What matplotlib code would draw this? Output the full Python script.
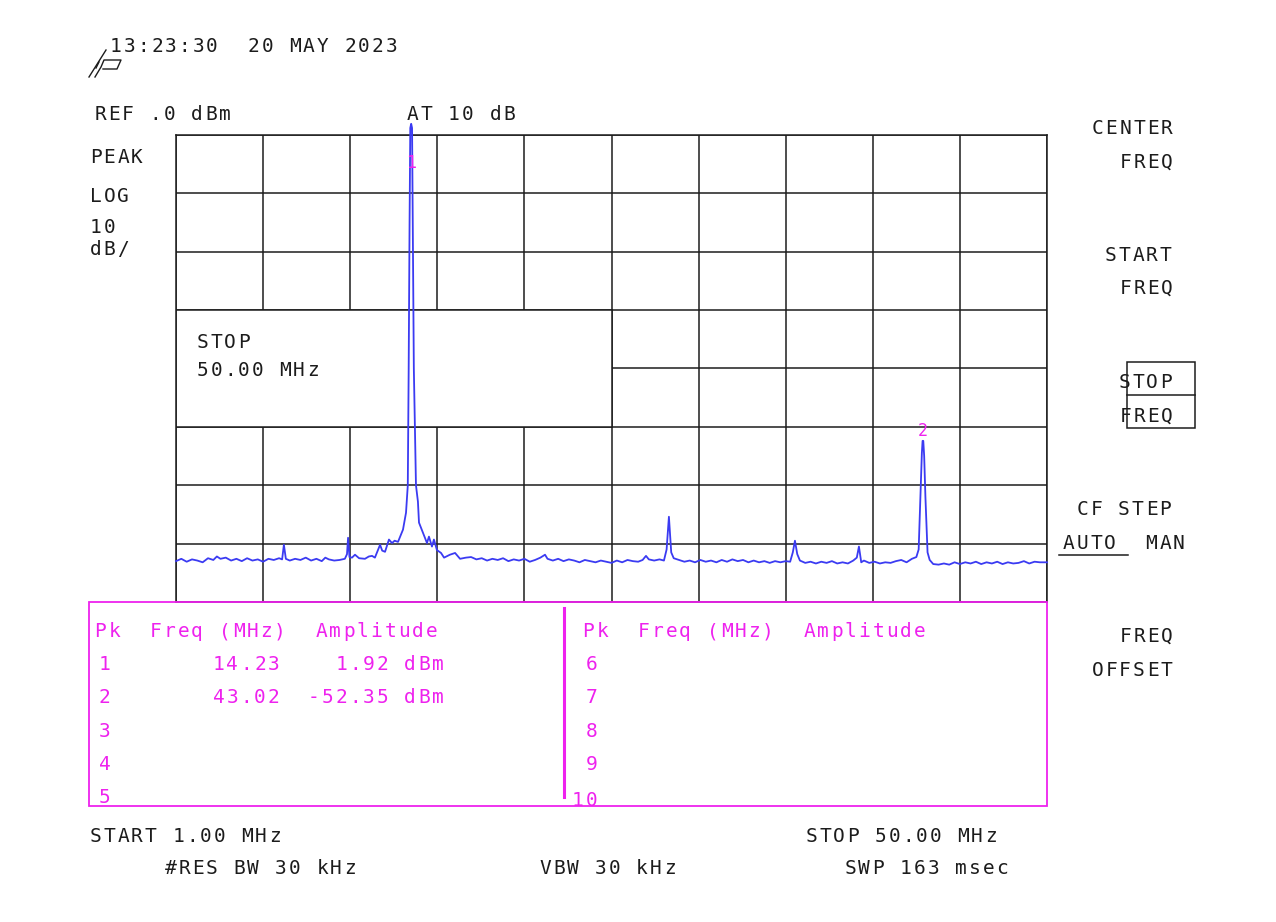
import matplotlib
matplotlib.use('Agg')
import matplotlib.pyplot as plt
from matplotlib.patches import Rectangle
import numpy as np

plt.rcParams['font.family'] = ['DejaVu Sans Mono']

# sweep settings
start_mhz = 1.0
stop_mhz = 50.0
ref_dbm = 0.0
db_per_div = 10
n_div_shown = 8

# marker table values
marker_mhz = [14.23, 43.02]
marker_dbm = [1.92, -52.35]

# trace (MHz, dBm)
trace = [
    (1.0, -73.0), (1.3, -72.6), (1.6, -73.1), (1.9, -72.7), (2.2, -72.9), (2.5, -73.2),
    (2.8, -72.5), (3.1, -72.8), (3.3, -72.2), (3.5, -72.6), (3.8, -72.4), (4.1, -72.9),
    (4.4, -72.6), (4.7, -73.0), (5.0, -72.5), (5.3, -72.9), (5.6, -72.7), (5.9, -73.1),
    (6.2, -72.6), (6.5, -72.8), (6.8, -72.5), (6.97, -72.7), (7.07, -70.2), (7.18, -72.6),
    (7.4, -72.9), (7.7, -72.6), (8.0, -72.8), (8.3, -72.4), (8.6, -72.9), (8.9, -72.6),
    (9.2, -73.0), (9.4, -72.4), (9.6, -72.7), (9.9, -72.9), (10.2, -72.8), (10.5, -72.6),
    (10.62, -71.8), (10.68, -69.0), (10.76, -72.3), (10.9, -72.4), (11.07, -71.9),
    (11.3, -72.5), (11.63, -72.6), (11.85, -72.2), (12.03, -72.1), (12.19, -72.4),
    (12.48, -70.2), (12.6, -71.2), (12.76, -71.4), (12.98, -69.3), (13.15, -69.9),
    (13.3, -69.5), (13.49, -69.7), (13.77, -67.6), (13.94, -64.7), (14.04, -60.0),
    (14.09, -40.0), (14.14, -15.0), (14.18, 1.2), (14.23, 1.92), (14.28, 1.2), (14.32, -15.0),
    (14.38, -40.0), (14.5, -60.0), (14.61, -62.8), (14.67, -66.4), (14.9, -68.2), (15.12, -69.9),
    (15.23, -68.8), (15.4, -70.5), (15.51, -69.3), (15.68, -71.1), (15.91, -71.6),
    (16.08, -72.4), (16.41, -71.9), (16.7, -71.6), (16.98, -72.6), (17.31, -72.4),
    (17.6, -72.3), (17.9, -72.7), (18.2, -72.5), (18.5, -72.9), (18.8, -72.6), (19.1, -72.8),
    (19.4, -72.5), (19.7, -73.0), (20.0, -72.7), (20.3, -72.9), (20.6, -72.6), (20.9, -73.1),
    (21.2, -72.8), (21.5, -72.4), (21.76, -71.9), (21.9, -72.6), (22.2, -72.9), (22.5, -72.6),
    (22.8, -73.0), (23.1, -72.7), (23.4, -72.9), (23.7, -73.2), (24.0, -72.8), (24.3, -73.0),
    (24.6, -73.2), (24.9, -72.9), (25.2, -73.1), (25.5, -73.3), (25.8, -72.9), (26.1, -73.2),
    (26.4, -72.8), (26.7, -73.0), (27.0, -73.1), (27.25, -72.8), (27.44, -72.1), (27.6, -72.7),
    (27.9, -72.9), (28.2, -72.7), (28.45, -72.9), (28.6, -71.0), (28.73, -65.4), (28.86, -71.5),
    (29.0, -72.5), (29.3, -72.8), (29.6, -73.1), (29.9, -72.9), (30.2, -73.2), (30.5, -72.8),
    (30.8, -73.1), (31.1, -72.9), (31.4, -73.2), (31.7, -72.8), (32.0, -73.1), (32.3, -72.7),
    (32.6, -73.0), (32.9, -72.8), (33.2, -73.2), (33.5, -72.9), (33.8, -73.2), (34.1, -73.0),
    (34.4, -73.3), (34.7, -73.0), (35.0, -73.2), (35.3, -73.0), (35.55, -73.1), (35.7, -71.5),
    (35.82, -69.5), (35.95, -71.8), (36.1, -72.9), (36.4, -73.3), (36.7, -73.1), (37.0, -73.4),
    (37.3, -73.1), (37.6, -73.3), (37.9, -73.0), (38.2, -73.4), (38.5, -73.2), (38.8, -73.4),
    (39.1, -72.9), (39.3, -72.4), (39.42, -70.5), (39.55, -73.2), (39.7, -72.9), (40.0, -73.3),
    (40.3, -73.1), (40.6, -73.4), (40.9, -73.2), (41.2, -73.3), (41.5, -73.0), (41.8, -72.8),
    (42.1, -73.2), (42.4, -72.6), (42.65, -72.3), (42.78, -71.0), (42.88, -62.0), (42.96, -54.5),
    (43.0, -52.4), (43.04, -52.4), (43.09, -55.0), (43.16, -62.0), (43.28, -71.5), (43.4, -72.8),
    (43.6, -73.5), (43.9, -73.6), (44.2, -73.4), (44.5, -73.6), (44.8, -73.2), (45.1, -73.5),
    (45.4, -73.2), (45.7, -73.4), (46.0, -73.1), (46.3, -73.5), (46.6, -73.2), (46.9, -73.4),
    (47.2, -73.1), (47.5, -73.5), (47.8, -73.2), (48.1, -73.4), (48.4, -73.3), (48.7, -73.0),
    (49.0, -73.4), (49.3, -73.1), (49.6, -73.2), (50.0, -73.2),
]

W, H = 1276, 922
INK = '#1c1c1c'
MAG = '#ee22ee'
BLUE = '#3b3bf2'

fig = plt.figure(figsize=(W / 100, H / 100), dpi=100)

# graticule axes (pixel box of the screen)
gx0, gx1, gy0, gy1 = 176, 1047, 135, 602
ax = fig.add_axes([gx0 / W, 1 - gy1 / H, (gx1 - gx0) / W, (gy1 - gy0) / H])
ax.set_xlim(start_mhz, stop_mhz)
ax.set_ylim(ref_dbm - n_div_shown * db_per_div, ref_dbm)
ax.set_xticks(np.linspace(start_mhz, stop_mhz, 11))
ax.set_yticks(np.arange(ref_dbm - n_div_shown * db_per_div, ref_dbm + 1, db_per_div))
ax.set_axisbelow(True)
ax.grid(True, color=INK, lw=1.1)
ax.tick_params(length=0, labelbottom=False, labelleft=False)
for sp in ax.spines.values():
    sp.set_color(INK)
    sp.set_linewidth(1.1)

# STOP entry box covers part of the grid
span = stop_mhz - start_mhz
ax.add_patch(Rectangle((start_mhz, -50), span / 2, 20, facecolor='white',
                       edgecolor=INK, lw=1.1, zorder=1))

f, d = np.array(trace).T
ax.plot(f, d, color=BLUE, lw=1.3, zorder=3, clip_on=False)

# marker labels
ax.annotate('1', xy=(marker_mhz[0], ref_dbm), xytext=(0, -33), textcoords='offset pixels',
            ha='center', va='baseline', color=MAG, fontsize=12, zorder=4,
            annotation_clip=False)
ax.annotate('2', xy=(marker_mhz[1], marker_dbm[1]), xytext=(0, 5), textcoords='offset pixels',
            ha='center', va='baseline', color=MAG, fontsize=12, zorder=4)

# overlay in pixel coordinates for the screen annotations
ov = fig.add_axes([0, 0, 1, 1])
ov.set_xlim(0, W)
ov.set_ylim(H, 0)
ov.axis('off')


def hp_text(x0, y, s, color=INK, size=14, pitch=13.8):
    # the analyzer font sits on a fixed character grid
    for i, ch in enumerate(s):
        if ch != ' ':
            ov.text(x0 + i * pitch + 5.5, y, ch, ha='center', va='baseline',
                    color=color, fontsize=size)


hp_text(110, 52, '13:23:30  20 MAY 2023')
# hp logo, drawn with strokes
ov.plot([89, 106], [77, 50], color=INK, lw=1.0)
ov.plot([95, 101, 104, 121, 117, 103], [77, 67, 60, 60, 69, 69], color=INK, lw=1.0)
ov.plot([96, 99], [68, 62], color=INK, lw=1.0)

hp_text(95, 120, 'REF .0 dBm')
hp_text(407, 120, 'AT 10 dB')
hp_text(90, 163, 'PEAK')
hp_text(90, 202, 'LOG')
hp_text(90, 233, '10')
hp_text(90, 255, 'dB/')

hp_text(197, 348, 'STOP')
hp_text(197, 376, f'{stop_mhz:.2f} MHz')

# softkey column
hp_text(1092, 134, 'CENTER')
hp_text(1120, 168, 'FREQ')
hp_text(1105, 261, 'START')
hp_text(1120, 294, 'FREQ')
hp_text(1119, 388, 'STOP')
hp_text(1120, 422, 'FREQ')
ov.add_patch(Rectangle((1127, 362), 68, 66, fill=False, edgecolor=INK, lw=1.1))
ov.plot([1127, 1195], [395, 395], color=INK, lw=1.1)
hp_text(1077, 515, 'CF STEP')
hp_text(1063, 549, 'AUTO  MAN')
ov.plot([1059, 1128], [555, 555], color=INK, lw=1.1)
hp_text(1120, 642, 'FREQ')
hp_text(1092, 676, 'OFFSET')

# marker table
ov.add_patch(Rectangle((89, 602), 958, 204, fill=False, edgecolor=MAG, lw=1.3, zorder=5))
ov.plot([564, 564], [608, 797], color=MAG, lw=2.2)
hp_text(95, 637, 'Pk  Freq (MHz)  Amplitude', color=MAG)
hp_text(583, 637, 'Pk  Freq (MHz)  Amplitude', color=MAG)
row_y = [670, 703, 737, 770, 803]
for k in range(5):
    hp_text(99, row_y[k], str(k + 1), color=MAG)
    lab = str(k + 6)
    hp_text(586 - (len(lab) - 1) * 13.8, row_y[k] + (3 if k == 4 else 0), lab, color=MAG)
for k in range(len(marker_mhz)):
    hp_text(213, row_y[k], f'{marker_mhz[k]:5.2f}', color=MAG)
    hp_text(308, row_y[k], f'{marker_dbm[k]:6.2f} dBm', color=MAG)

# bottom annotations
hp_text(90, 842, f'START {start_mhz:.2f} MHz')
hp_text(806, 842, f'STOP {stop_mhz:.2f} MHz')
hp_text(165, 874, '#RES BW 30 kHz')
hp_text(540, 874, 'VBW 30 kHz')
hp_text(845, 874, 'SWP 163 msec')

fig.savefig('out.png', dpi=100)
plt.close(fig)
